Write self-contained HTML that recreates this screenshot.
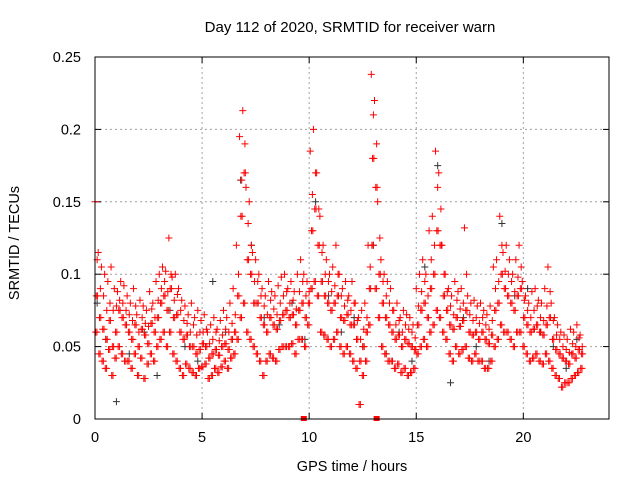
<!DOCTYPE html>
<html><head><meta charset="utf-8"><style>
body{margin:0;background:#fff}
svg{display:block;font-family:"Liberation Sans",sans-serif}
</style></head><body>
<svg id="chart" width="640" height="480">
<text x="350" y="32" text-anchor="middle" font-size="15">Day 112 of 2020, SRMTID for receiver warn</text>
<text transform="translate(19,243) rotate(-90)" text-anchor="middle" font-size="14.5">SRMTID / TECUs</text>
<text x="352" y="471" text-anchor="middle" font-size="14.5">GPS time / hours</text>
<g id="grid"></g>
<g id="ticks"></g>
<g id="black"></g>
<g id="red"></g>
<rect x="95" y="57" width="514" height="362" fill="none" stroke="#000"/>
</svg>
<script>
const xTicks=[0,5,10,15,20];
const yTicks=[0,0.05,0.1,0.15,0.2,0.25];
const yTickLabels=["0","0.05","0.1","0.15","0.2","0.25"];
const redHours=[0,0.15,0.3,0.45,0.6,0.75,0.9,1.05,1.2,1.35,1.5,1.65,1.8,1.95,2.1,2.25,2.4,2.55,2.7,2.85,3,3.15,3.3,3.45,3.6,3.75,3.9,4.05,4.2,4.35,4.5,4.65,4.8,4.95,5.1,5.25,5.4,5.55,5.7,5.85,6,6.15,6.3,6.45,6.6,6.75,6.9,7.05,7.2,7.35,7.5,7.65,7.8,7.95,8.1,8.25,8.4,8.55,8.7,8.85,9,9.15,9.3,9.45,9.6,9.75,9.9,10.05,10.2,10.35,10.5,10.65,10.8,10.95,11.1,11.25,11.4,11.55,11.7,11.85,12,12.15,12.3,12.45,12.6,12.75,12.9,13.05,13.2,13.35,13.5,13.65,13.8,13.95,14.1,14.25,14.4,14.55,14.7,14.85,15,15.15,15.3,15.45,15.6,15.75,15.9,16.05,16.2,16.35,16.5,16.65,16.8,16.95,17.1,17.25,17.4,17.55,17.7,17.85,18,18.15,18.3,18.45,18.6,18.75,18.9,19.05,19.2,19.35,19.5,19.65,19.8,19.95,20.1,20.25,20.4,20.55,20.7,20.85,21,21.15,21.3,21.45,21.6,21.75,21.9,22.05,22.2,22.35,22.5,22.65];
const redHigh=[.150,.115,.105,.100,.095,.105,.090,.088,.095,.092,.085,.080,.090,.072,.082,.078,.075,.088,.080,.095,.100,.105,.102,.125,.098,.100,.090,.082,.078,.072,.080,.070,.075,.068,.072,.060,.065,.070,.062,.068,.075,.070,.080,.090,.120,.195,.213,.160,.150,.115,.110,.100,.090,.085,.095,.088,.085,.092,.098,.100,.090,.095,.088,.100,.110,.100,.095,.185,.200,.170,.140,.120,.110,.100,.105,.120,.100,.090,.095,.085,.095,.080,.070,.075,.080,.120,.238,.220,.150,.110,.100,.095,.090,.075,.080,.070,.075,.072,.070,.065,.090,.100,.110,.100,.130,.140,.185,.170,.120,.100,.090,.085,.095,.088,.090,.132,.085,.080,.082,.078,.080,.075,.072,.078,.105,.110,.140,.115,.120,.110,.100,.110,.120,.095,.085,.080,.088,.090,.082,.080,.090,.105,.080,.070,.065,.060,.058,.055,.062,.060,.065,.058];
const redUpper=[.110,.090,.085,.075,.080,.075,.078,.082,.080,.075,.072,.068,.078,.060,.070,.066,.064,.076,.070,.082,.090,.095,.088,.100,.082,.086,.075,.068,.066,.060,.065,.058,.060,.060,.062,.052,.055,.060,.054,.058,.062,.060,.066,.072,.100,.165,.190,.135,.120,.095,.095,.085,.078,.072,.082,.076,.072,.080,.085,.088,.080,.082,.076,.088,.095,.085,.088,.155,.170,.145,.115,.100,.095,.088,.092,.100,.085,.078,.082,.075,.080,.068,.055,.062,.070,.105,.210,.190,.125,.095,.085,.080,.075,.065,.068,.060,.065,.062,.060,.056,.078,.088,.095,.085,.110,.120,.160,.145,.100,.088,.078,.072,.082,.076,.080,.100,.072,.068,.070,.066,.070,.065,.062,.068,.090,.095,.120,.102,.100,.095,.088,.098,.105,.082,.075,.070,.075,.078,.070,.068,.078,.088,.068,.058,.055,.050,.048,.046,.052,.050,.056,.050];
const redMid=[.085,.070,.062,.055,.068,.050,.060,.075,.070,.065,.060,.055,.065,.050,.062,.058,.052,.066,.060,.070,.080,.085,.075,.090,.070,.072,.060,.055,.058,.050,.050,.045,.048,.052,.050,.042,.045,.048,.044,.050,.052,.048,.055,.060,.085,.140,.170,.110,.100,.080,.080,.070,.065,.060,.070,.065,.062,.068,.072,.075,.070,.072,.065,.075,.080,.070,.080,.130,.145,.120,.095,.085,.080,.075,.080,.085,.070,.068,.072,.065,.065,.055,.040,.050,.060,.090,.180,.160,.100,.080,.070,.065,.060,.055,.058,.050,.055,.052,.050,.048,.065,.075,.080,.070,.090,.100,.130,.120,.085,.075,.065,.062,.070,.064,.068,.075,.060,.058,.060,.055,.060,.055,.052,.058,.075,.080,.100,.090,.085,.080,.075,.085,.090,.070,.065,.060,.062,.065,.060,.058,.065,.070,.055,.048,.045,.042,.040,.038,.045,.042,.048,.045];
const redLow=[.060,.045,.040,.035,.048,.030,.042,.050,.045,.040,.040,.035,.045,.030,.042,.028,.038,.045,.040,.050,.055,.060,.050,.060,.045,.040,.035,.030,.038,.035,.032,.030,.035,.036,.038,.028,.030,.035,.032,.036,.040,.035,.042,.045,.055,.070,.080,.060,.055,.050,.045,.040,.030,.040,.045,.042,.040,.048,.050,.050,.050,.052,.045,.055,.055,.050,.065,.090,.095,.085,.060,.058,.055,.050,.055,.060,.050,.045,.050,.045,.040,.035,.010,.030,.040,.065,.120,.090,.070,.050,.045,.040,.040,.035,.038,.032,.035,.030,.032,.035,.045,.050,.055,.050,.060,.065,.075,.070,.060,.055,.045,.040,.050,.045,.048,.050,.042,.040,.045,.040,.040,.035,.035,.040,.050,.055,.065,.060,.060,.055,.050,.060,.060,.050,.045,.040,.042,.045,.040,.038,.045,.040,.035,.030,.028,.022,.025,.025,.028,.030,.032,.035];
const blackHours=[0.1,0.5,1.0,1.6,2.3,2.9,3.5,4.2,4.8,5.5,6.1,6.8,7.3,7.9,8.6,9.2,9.8,10.3,10.9,11.5,12.1,12.5,13.0,13.6,14.2,14.8,15.4,16.0,16.6,17.2,17.8,18.4,19.0,19.6,20.2,20.8,21.4,22.0,22.5];
const blackVals=[.080,.055,.012,.045,.060,.030,.075,.050,.040,.095,.060,.165,.120,.070,.065,.080,.055,.150,.085,.060,.070,.050,.120,.045,.060,.040,.105,.175,.025,.070,.050,.040,.135,.085,.090,.060,.050,.035,.055];
const zeroHours=[9.75,13.15];

const X0=95,X1=609,Y0=419,Y1=57,XMAX=24,YMAX=0.25;
function sx(h){return X0+(X1-X0)*h/XMAX;}
function sy(v){return Y0-(Y0-Y1)*v/YMAX;}
const NS="http://www.w3.org/2000/svg";
function mk(tag,attrs,parent){const e=document.createElementNS(NS,tag);for(const k in attrs)e.setAttribute(k,attrs[k]);parent.appendChild(e);return e;}
const grid=document.getElementById('grid'),ticks=document.getElementById('ticks');
xTicks.forEach(t=>{
  const x=sx(t);
  if(t>0){const l=mk('line',{x1:x,x2:x,y1:Y1,y2:Y0,stroke:'#a0a0a0','stroke-dasharray':'2,3'},grid);
  
  }
  mk('line',{x1:x,x2:x,y1:Y0,y2:Y0-6,stroke:'#000'},ticks);
  mk('line',{x1:x,x2:x,y1:Y1,y2:Y1+6,stroke:'#000'},ticks);
  const tx=mk('text',{x:x,y:Y0+23,'text-anchor':'middle','font-size':'14.5'},ticks);
  tx.textContent=String(t);
  
  
});
yTicks.forEach((t,i)=>{
  const y=sy(t);
  if(t>0&&t<YMAX){const l=mk('line',{x1:X0,x2:X1,y1:y,y2:y,stroke:'#a0a0a0','stroke-dasharray':'2,3'},grid);
  
  }
  mk('line',{x1:X0,x2:X0+6,y1:y,y2:y,stroke:'#000'},ticks);
  mk('line',{x1:X1,x2:X1-6,y1:y,y2:y,stroke:'#000'},ticks);
  const tx=mk('text',{x:X0-14,y:y+5,'text-anchor':'end','font-size':'14.5'},ticks);
  tx.textContent=yTickLabels[i];
  
  
});
function plus(g,h,v,col){
  const x=sx(h),y=sy(v);
  const p=mk('path',{d:`M${x-3.5},${y}h7M${x},${y-3.5}v7`,stroke:col,'stroke-width':'1',fill:'none'},g);
  
  
}
const bg=document.getElementById('black'),rg=document.getElementById('red');
blackHours.forEach((h,i)=>plus(bg,h,blackVals[i],'#333'));
redHours.forEach((h,i)=>{
  plus(rg,h,redHigh[i],'#f00');
  plus(rg,h+0.1,redUpper[i],'#f00');
  plus(rg,h+0.06,redMid[i],'#f00');
  plus(rg,h+0.12,redMid[i],'#f00');
  plus(rg,h+0.03,redLow[i],'#f00');
  plus(rg,h+0.09,redLow[i],'#f00');
});
zeroHours.forEach(h=>{
  const r=mk('rect',{x:sx(h)-3,y:Y0-3,width:6,height:5,fill:'#f00'},rg);
  
  
});
</script>
</body></html>
